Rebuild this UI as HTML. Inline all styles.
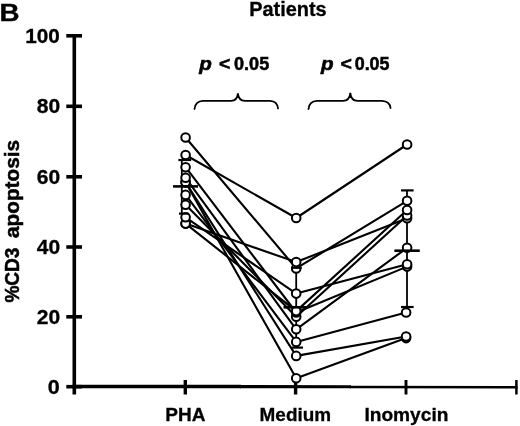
<!DOCTYPE html>
<html><head><meta charset="utf-8"><title>Patients</title>
<style>
html,body{margin:0;padding:0;background:#fff;}
svg{display:block;}
text{font-family:"Liberation Sans",sans-serif;font-weight:bold;fill:#000;}
</style></head>
<body>
<svg width="520" height="426" viewBox="0 0 520 426">
<rect width="520" height="426" fill="#fff"/>
<!-- axes -->
<g stroke="#000" stroke-width="3.6" fill="none" stroke-linecap="butt">
<line x1="74.3" y1="34" x2="74.3" y2="394.5"/>
<line x1="66.3" y1="386.7" x2="82" y2="386.7"/>
<line x1="72.5" y1="386.6" x2="241" y2="386.5" stroke-width="3.5"/>
<line x1="240" y1="386.6" x2="351" y2="386.8" stroke-width="3.1"/>
<line x1="350" y1="387" x2="517.5" y2="387.2" stroke-width="2.6"/>
<line x1="66.3" y1="35.8" x2="82" y2="35.8"/>
<line x1="66.3" y1="106.3" x2="82" y2="106.3"/>
<line x1="66.3" y1="176.8" x2="82" y2="176.8"/>
<line x1="66.3" y1="247" x2="82" y2="247"/>
<line x1="66.3" y1="316.8" x2="82" y2="316.8"/>
<line x1="185.3" y1="380" x2="185.3" y2="394.5" stroke-width="3.4"/>
<line x1="295.6" y1="380" x2="295.6" y2="394.5" stroke-width="3.4"/>
<line x1="406" y1="380" x2="406" y2="394.5" stroke-width="2.9"/>
<line x1="516.4" y1="380" x2="516.4" y2="394.5" stroke-width="2.5"/>
</g>
<!-- patient lines -->
<g stroke="#000" stroke-width="2.1" fill="none" stroke-linejoin="round">
<polyline points="185.6,137.5 296.2,268.4 407.1,200.8"/>
<polyline points="185.6,155.0 296.2,218.0 407.1,144.5"/>
<polyline points="185.6,167.2 296.2,312.5 407.1,266.6"/>
<polyline points="185.6,177.8 296.2,329.3 407.1,247.8"/>
<polyline points="185.6,182.3 296.2,378.3 406.1,338.1"/>
<polyline points="185.6,182.3 296.2,355.9 406.1,336.5"/>
<polyline points="185.6,194.9 296.2,341.9 406.1,312.5"/>
<polyline points="185.6,204.7 296.2,316.7 407.1,215.5"/>
<polyline points="185.6,217.3 296.2,293.6 407.1,264.2"/>
<polyline points="185.6,223.6 296.2,311.1 407.1,210.0"/>
<polyline points="185.6,223.6 296.2,262.1 407.1,218.3"/>
</g>
<!-- error bar stems -->
<g stroke="#000" fill="none" stroke-width="1.8">
<line x1="181.8" y1="160" x2="181.8" y2="213.5"/>
<line x1="296.2" y1="267.8" x2="296.2" y2="347.6"/>
<line x1="407" y1="190.4" x2="407" y2="307"/>
</g>
<g stroke="#000" stroke-width="2" fill="#fff">
<circle cx="296.2" cy="378.3" r="4.3"/>
<circle cx="296.2" cy="355.9" r="4.3"/>
<circle cx="296.2" cy="341.9" r="4.3"/>
<circle cx="406.1" cy="338.1" r="4.3"/>
<circle cx="406.1" cy="336.5" r="4.3"/>
<circle cx="296.2" cy="329.3" r="4.3"/>
<circle cx="296.2" cy="316.7" r="4.3"/>
<circle cx="296.2" cy="312.5" r="4.3"/>
<circle cx="406.1" cy="312.5" r="4.3"/>
<circle cx="296.2" cy="311.1" r="4.3"/>
<circle cx="296.2" cy="293.6" r="4.3"/>
<circle cx="296.2" cy="268.4" r="4.3"/>
<circle cx="407.1" cy="266.6" r="4.3"/>
<circle cx="407.1" cy="264.2" r="4.3"/>
<circle cx="296.2" cy="262.1" r="4.3"/>
<circle cx="407.1" cy="247.8" r="4.3"/>
<circle cx="185.6" cy="223.6" r="4.3"/>
<circle cx="185.6" cy="223.6" r="4.3"/>
<circle cx="407.1" cy="218.3" r="4.3"/>
<circle cx="296.2" cy="218.0" r="4.3"/>
<circle cx="185.6" cy="217.3" r="4.3"/>
<circle cx="407.1" cy="215.5" r="4.3"/>
<circle cx="407.1" cy="210.0" r="4.3"/>
<circle cx="185.6" cy="204.7" r="4.3"/>
<circle cx="407.1" cy="200.8" r="4.3"/>
<circle cx="185.6" cy="194.9" r="4.3"/>
<circle cx="185.6" cy="182.3" r="4.3"/>
<circle cx="185.6" cy="182.3" r="4.3"/>
<circle cx="185.6" cy="177.8" r="4.3"/>
<circle cx="185.6" cy="167.2" r="4.3"/>
<circle cx="185.6" cy="155.0" r="4.3"/>
<circle cx="407.1" cy="144.5" r="4.3"/>
<circle cx="185.6" cy="137.5" r="4.3"/>
</g>
<!-- error bar caps / mean bars -->
<g stroke="#000" fill="none">
<line x1="173" y1="186.4" x2="198" y2="186.4" stroke-width="2.6"/>
<line x1="178.4" y1="160" x2="191.2" y2="160" stroke-width="2.2"/>
<line x1="179" y1="213.6" x2="188.5" y2="213.6" stroke-width="2.2"/>
<line x1="283.5" y1="307.3" x2="307" y2="307.3" stroke-width="2.6"/>
<line x1="291" y1="267.8" x2="301.7" y2="267.8" stroke-width="2.2"/>
<line x1="291.8" y1="347.6" x2="303" y2="347.6" stroke-width="2.2"/>
<line x1="394.4" y1="250.7" x2="419.8" y2="250.7" stroke-width="2.6"/>
<line x1="401" y1="190.4" x2="413.6" y2="190.4" stroke-width="2.2"/>
<line x1="401" y1="307" x2="413.6" y2="307" stroke-width="2.2"/>
</g>
<!-- braces -->
<g stroke="#000" stroke-width="1.8" fill="none" stroke-linecap="round">
<path d="M194.5,109 C195,103 198,101 203,100.8 L231,100.8 C235.500,100.8 237.5,98.5 237.900,93.400 C238.300,98.5 240.500,100.8 245,100.8 L270,100.8 C275,101 277.500,103 278,108.500"/>
<path d="M308.500,109 C309,103 312,101 317,100.8 L343,100.8 C347.800,100.8 349.800,98.3 350.300,92.800 C350.800,98.3 353,100.8 357.500,100.8 L382,100.8 C387,101 390,103 390.500,108"/>
</g>
<!-- text -->
<text x="-0.6" y="21.3" font-size="24" stroke="#000" stroke-width="0.4" textLength="20" lengthAdjust="spacingAndGlyphs">B</text>
<text x="249.2" y="15.9" font-size="19.5" stroke="#000" stroke-width="0.3" textLength="77.5" lengthAdjust="spacingAndGlyphs">Patients</text>
<g font-size="17.5" stroke="#000" stroke-width="0.5">
<text x="199.2" y="70.2" font-style="italic" textLength="12.6" lengthAdjust="spacingAndGlyphs">p</text>
<text x="219" y="70.2" textLength="11.4" lengthAdjust="spacingAndGlyphs">&lt;</text>
<text x="234" y="70.2" textLength="35.2" lengthAdjust="spacingAndGlyphs">0.05</text>
<text x="321" y="70.2" font-style="italic" textLength="12.6" lengthAdjust="spacingAndGlyphs">p</text>
<text x="340.6" y="70.2" textLength="11.4" lengthAdjust="spacingAndGlyphs">&lt;</text>
<text x="354.7" y="70.2" textLength="34.8" lengthAdjust="spacingAndGlyphs">0.05</text>
</g>
<g font-size="19.5" stroke="#000" stroke-width="0.3">
<text x="25.2" y="42.7" textLength="34.6" lengthAdjust="spacingAndGlyphs">100</text>
<text x="36.8" y="113.2" textLength="23.4" lengthAdjust="spacingAndGlyphs">80</text>
<text x="36.8" y="183.7" textLength="23.4" lengthAdjust="spacingAndGlyphs">60</text>
<text x="36.8" y="253.9" textLength="23.4" lengthAdjust="spacingAndGlyphs">40</text>
<text x="36.8" y="323.7" textLength="23.4" lengthAdjust="spacingAndGlyphs">20</text>
<text x="47.8" y="393.7" textLength="12" lengthAdjust="spacingAndGlyphs">0</text>
</g>
<g transform="translate(19.2,302.6) rotate(-90)" font-size="20" stroke="#000" stroke-width="0.5">
<text x="0" y="0" textLength="55" lengthAdjust="spacingAndGlyphs">%CD3</text>
<text x="64.6" y="0" textLength="98" lengthAdjust="spacingAndGlyphs">apoptosis</text>
</g>
<g font-size="18.6" stroke="#000" stroke-width="0.3">
<text x="165.2" y="420.6" textLength="40.2" lengthAdjust="spacingAndGlyphs">PHA</text>
<text x="259.6" y="420.6" textLength="71.5" lengthAdjust="spacingAndGlyphs">Medium</text>
<text x="364.4" y="420.6" textLength="84" lengthAdjust="spacingAndGlyphs">Inomycin</text>
</g>
</svg>
</body></html>
